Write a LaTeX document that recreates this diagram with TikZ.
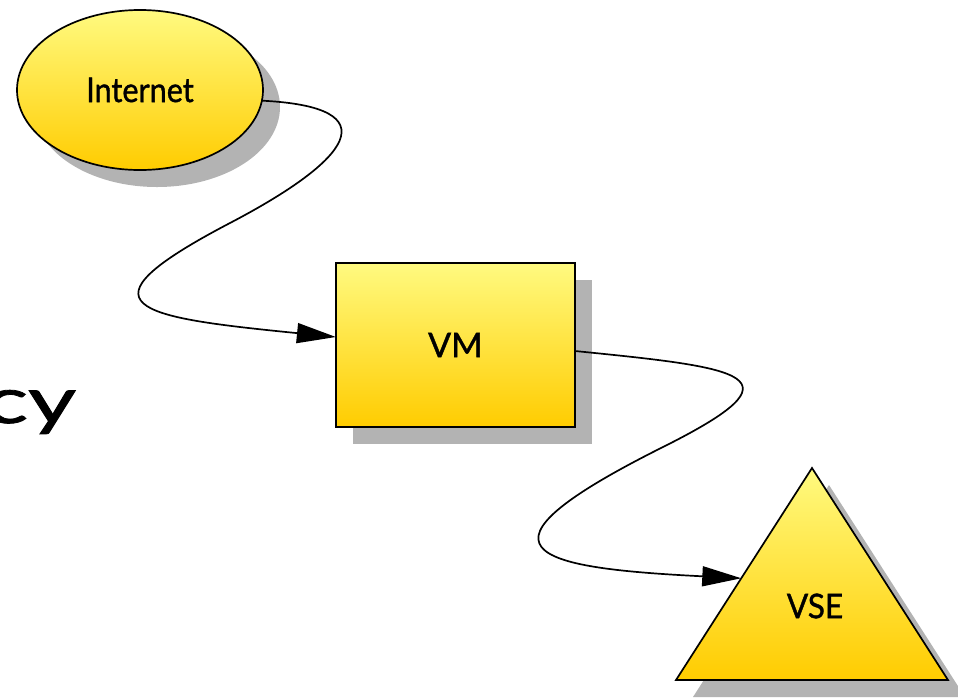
\documentclass[tikz,border=0pt]{standalone}
\usepackage{fontspec}
\setmainfont{Lato}[FakeBold=1.2]
\usetikzlibrary{shapes.geometric,arrows.meta,shadows,calc}
\definecolor{ylTop}{HTML}{FFFA80}
\definecolor{ylBot}{HTML}{FFCC00}
\definecolor{shadowgray}{HTML}{B3B3B3}
\tikzset{
  box/.style={draw=black, line width=1.7pt, top color=ylTop, bottom color=ylBot,
    inner sep=0pt, outer sep=0pt, font=\fontsize{34}{40}\selectfont,
    drop shadow={shadow xshift=17pt, shadow yshift=-17pt, fill=shadowgray, opacity=1}},
  link/.style={draw=black, line width=1.7pt, -{Triangle[length=39pt,width=20pt]}},
}
\begin{document}
\begin{tikzpicture}[x=1pt,y=-1pt]
\useasboundingbox (0,0) rectangle (958,697);

% slide title, mostly off the left edge
\node[anchor=base east, inner sep=0pt, font=\fontsize{64}{70}\selectfont] (title) at (76,423)
  {\scalebox{1.45}[1]{Latency}};

% nodes
\node[box, ellipse, minimum width=246pt, minimum height=160pt] (inet) at (140,90)
  {\scalebox{0.9}[1]{Internet}};
\node[box, rectangle, minimum width=239pt, minimum height=164pt] (vm) at (455.4,345) {VM};

% triangle for the VSE
\coordinate (vseTop) at (812,468);
\coordinate (vseL) at (676,680);
\coordinate (vseR) at (948,680);
\fill[shadowgray] ($(vseTop)+(17,17)$) -- ($(vseL)+(17,17)$) -- ($(vseR)+(17,17)$) -- cycle;
\path[draw=black, line width=1.7pt, line join=miter, top color=ylTop, bottom color=ylBot]
  (vseTop) -- (vseL) -- (vseR) -- cycle;
\node[font=\fontsize{34}{40}\selectfont, inner sep=0pt] (vse) at (815,606)
  {\scalebox{0.93}[1]{VSE}};
\coordinate (vseIn) at ($(vseTop)!0.52!(vseL)$);

% connectors
\coordinate (m1) at (230,223);
\coordinate (m2) at (663,447);
\draw[link] (inet.-5) .. controls +(130,6.5) and +(119.6,-62.6) .. (m1)
  .. controls +(-159.5,83.5) and +(-200,-20) .. ([yshift=8pt]vm.west);
\draw[link] ([yshift=-6pt]vm.east) .. controls +(170,17) and +(143,-71.5) .. (m2)
  .. controls +(-205.6,102.8) and +(-210,-10.5) .. (vseIn);
\end{tikzpicture}
\end{document}
